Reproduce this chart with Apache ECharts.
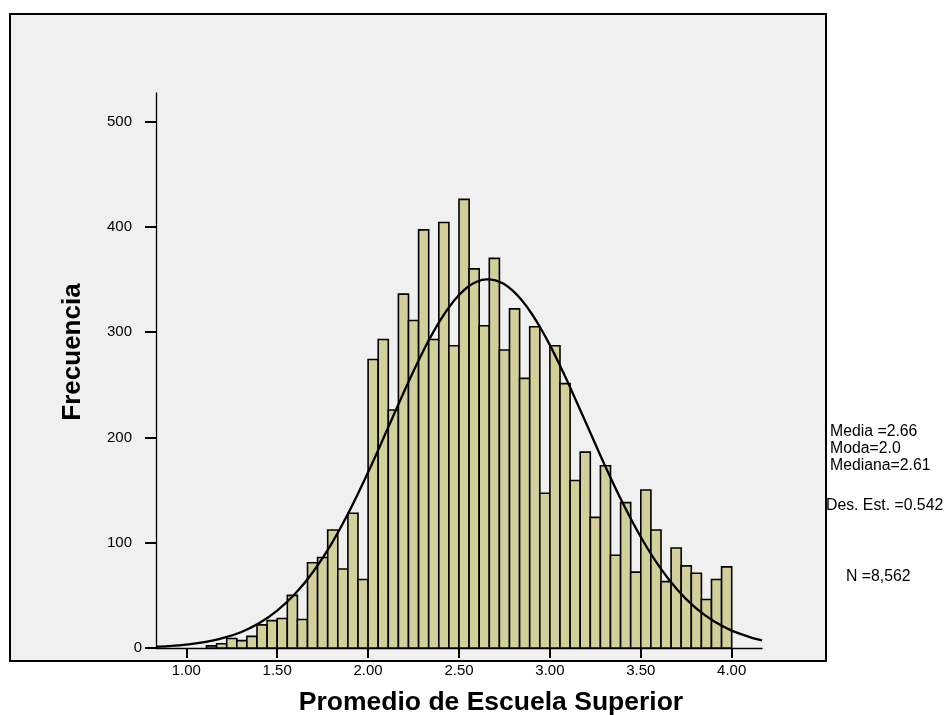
<!DOCTYPE html>
<html><head><meta charset="utf-8">
<script src="https://cdn.jsdelivr.net/npm/echarts@6/dist/echarts.min.js"></script>
<style>html,body{margin:0;padding:0;background:#fff}#c{width:948px;height:715px}</style>
</head><body><div id="c"></div>
<script>
// Histogram bins (lower edges) and bin width
const binStart = [1.1111,1.1667,1.2222,1.2778,1.3333,1.3889,1.4444,1.5000,1.5556,1.6111,
  1.6667,1.7222,1.7778,1.8333,1.8889,1.9444,2.0000,2.0556,2.1111,2.1667,
  2.2222,2.2778,2.3333,2.3889,2.4444,2.5000,2.5556,2.6111,2.6667,2.7222,
  2.7778,2.8333,2.8889,2.9444,3.0000,3.0556,3.1111,3.1667,3.2222,3.2778,
  3.3333,3.3889,3.4444,3.5000,3.5556,3.6111,3.6667,3.7222,3.7778,3.8333,
  3.8889,3.9444];
const binWidth = 0.05556;
const counts = [2,4,9,7,11,22,26,28,50,27,
  81,86,112,75,128,65,274,293,226,336,
  311,397,293,404,287,426,360,306,370,283,
  322,256,305,147,287,251,159,186,124,173,
  88,138,72,150,112,63,95,78,71,46,
  65,77];
// Normal curve
const curveX = [0.8333,0.9,1.0,1.1,1.2,1.3,1.4,1.5,1.6,1.7,1.8,1.9,2.0,2.1,2.2,2.25,2.3,2.35,2.4,2.45,2.5,2.55,2.6,2.65,2.7,2.75,2.8,2.85,2.9,2.95,3.0,3.05,3.1,3.2,3.3,3.4,3.5,3.6,3.7,3.8,3.9,4.0,4.1,4.1667];
const curveY = [1.2,1.8,3.2,5.6,9.3,15.0,23.5,35.5,51.7,72.9,99.4,131.0,166.8,205.3,244.2,263.0,280.8,297.3,312.0,324.8,335.2,343.0,348.0,350.0,349.1,345.3,338.6,329.2,317.4,303.4,287.6,270.2,251.8,213.1,174.3,137.9,105.4,77.8,55.6,38.3,25.6,16.5,10.3,7.2];
const xTickValues = [1.0,1.5,2.0,2.5,3.0,3.5,4.0];
const xTickLabels = ["1.00","1.50","2.00","2.50","3.00","3.50","4.00"];
const yTickValues = [0,100,200,300,400,500];
const yTickLabels = ["0","100","200","300","400","500"];
const statsLines = ["Media =2.66","Moda=2.0","Mediana=2.61","Des. Est. =0.542","N =8,562"];
const xTitle = "Promedio de Escuela Superior";
const yTitle = "Frecuencia";

const FONT = '"Liberation Sans", Arial, Helvetica, sans-serif';
const chart = echarts.init(document.getElementById('c'), null, {renderer: 'canvas'});

const barData = binStart.map((s, i) => [s, s + binWidth, counts[i]]);
const curveData = curveX.map((x, i) => [x, curveY[i]]);

const statPos = [[830, 432], [830, 449], [830, 466], [826, 506], [846, 577]];
const yMax = 527;

chart.setOption({
  backgroundColor: '#ffffff',
  animation: false,
  grid: {left: 156, top: 93, width: 606, height: 555, containLabel: false, outerBoundsMode: 'none'},
  xAxis: {
    type: 'value', min: 0.83333, max: 4.16667,
    axisLine: {show: true, onZero: false, lineStyle: {color: '#000', width: 1.3}},
    axisTick: {show: true, length: 10, lineStyle: {color: '#000', width: 2}, customValues: xTickValues},
    axisLabel: {
      customValues: xTickValues, margin: 15,
      formatter: v => xTickLabels[xTickValues.findIndex(t => Math.abs(t - v) < 1e-6)],
      color: '#000', fontSize: 15, fontFamily: FONT
    },
    splitLine: {show: false}
  },
  yAxis: [
    {
      type: 'value', min: 0, max: yMax,
      axisLine: {show: true, onZero: false, lineStyle: {color: '#000', width: 1.3}},
      axisTick: {show: true, length: 11, lineStyle: {color: '#000', width: 2}, customValues: yTickValues},
      axisLabel: {
        customValues: yTickValues.slice(1), margin: 24, padding: [6, 0, 0, 0],
        formatter: v => yTickLabels[yTickValues.indexOf(v)],
        color: '#000', fontSize: 15, fontFamily: FONT
      },
      splitLine: {show: false}
    },
    {
      type: 'value', min: 0, max: yMax, position: 'left',
      axisLine: {show: false}, axisTick: {show: false}, splitLine: {show: false},
      axisLabel: {
        customValues: [yTickValues[0]], margin: 14, padding: [1, 0, 0, 0],
        formatter: v => yTickLabels[yTickValues.indexOf(v)],
        color: '#000', fontSize: 15, fontFamily: FONT
      }
    }
  ],
  graphic: {elements: [
    {type: 'rect', z: -100, silent: true, shape: {x: 10, y: 14, width: 816, height: 647},
     style: {fill: '#f0f0f0', stroke: '#000', lineWidth: 2}},
    {type: 'text', x: 491, y: 703, style: {text: xTitle, font: 'bold 26.5px ' + FONT, fill: '#000', align: 'center', verticalAlign: 'middle'}},
    {type: 'text', x: 73, y: 352, rotation: Math.PI / 2, style: {text: yTitle, font: 'bold 26px ' + FONT, fill: '#000', align: 'center', verticalAlign: 'middle'}}
  ].concat(statsLines.map((t, i) => ({
    type: 'text', x: statPos[i][0], y: statPos[i][1],
    style: {text: t, font: '15.8px ' + FONT, fill: '#000', align: 'left', verticalAlign: 'middle'}
  })))},
  series: [
    {
      type: 'custom', data: barData, encode: {x: [0, 1], y: 2}, z: 2,
      renderItem: function (params, api) {
        const p0 = api.coord([api.value(0), api.value(2)]);
        const p1 = api.coord([api.value(1), 0]);
        return {type: 'rect', shape: {x: p0[0], y: p0[1], width: p1[0] - p0[0], height: p1[1] - p0[1]},
          style: {fill: '#d3cf9b', stroke: '#000', lineWidth: 1.6}};
      }
    },
    {
      type: 'line', data: curveData, smooth: 0.3, showSymbol: false, symbol: 'none', z: 5,
      lineStyle: {color: '#000', width: 2.3}
    }
  ]
});
</script></body></html>
